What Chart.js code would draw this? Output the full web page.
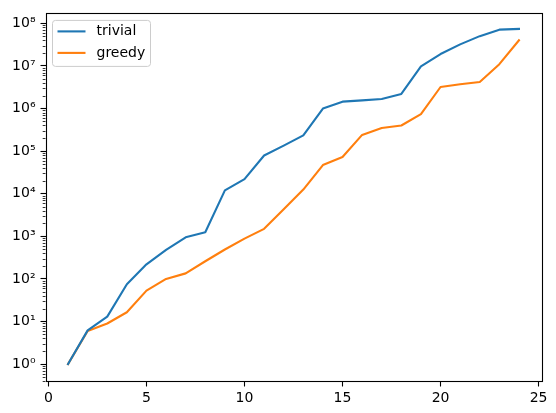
<!DOCTYPE html>
<html>
<head>
<meta charset="utf-8">
<script src="https://cdn.jsdelivr.net/npm/chart.js@4/dist/chart.umd.min.js"></script>
<style>
  body { margin: 0; background: #fff; }
  #wrap { width: 556px; height: 413px; }
</style>
</head>
<body>
<div id="wrap"><canvas id="chart"></canvas></div>
<script>
// data
const sizes = [1, 2, 3, 4, 5, 6, 7, 8, 9, 10, 11, 12, 13, 14, 15, 16, 17, 18, 19, 20, 21, 22, 23, 24];
const trivial = [1, 6.2, 13, 75, 220, 480, 950, 1250, 12000, 22000, 79000, 135000, 235000,
  1000000, 1450000, 1550000, 1670000, 2200000, 9800000, 19000000, 32000000, 50000000, 71000000, 74000000];
const greedy = [1, 6, 9, 16.5, 53, 100, 135, 260, 490, 880, 1500, 4300, 12500,
  47000, 73000, 240000, 350000, 400000, 740000, 3200000, 3700000, 4200000, 11000000, 40000000];
const xTicks = [0, 5, 10, 15, 20, 25];
const yTicks = [1, 10, 100, 1e3, 1e4, 1e5, 1e6, 1e7, 1e8];

const FONT = "'DejaVu Sans', sans-serif";
const sup = { "0": "⁰", "1": "¹", "2": "²", "3": "³", "4": "⁴", "5": "⁵", "6": "⁶", "7": "⁷", "8": "⁸", "9": "⁹" };

function pairs(ys) {
  return sizes.map((x, i) => ({ x: x, y: ys[i] }));
}

// frame, minor ticks and legend box like matplotlib
const extras = {
  id: "extras",
  afterDraw(chart) {
    const ctx = chart.ctx;
    const a = chart.chartArea;
    const ys = chart.scales.y;
    ctx.save();
    ctx.strokeStyle = "#000";
    ctx.lineWidth = 0.8;
    for (let e = -1; e <= 8; e++) {
      for (let m = 2; m <= 9; m++) {
        const v = m * Math.pow(10, e);
        if (v < ys.min || v > ys.max) continue;
        const py = Math.round(ys.getPixelForValue(v)) + 0.5;
        ctx.beginPath();
        ctx.moveTo(a.left - 2.8, py);
        ctx.lineTo(a.left, py);
        ctx.stroke();
      }
    }
    ctx.lineWidth = 1.1;
    ctx.strokeRect(Math.round(a.left) + 0.5, Math.round(a.top) + 0.5,
      Math.round(a.right - a.left), Math.round(a.bottom - a.top));

    // legend
    const bx = a.left + 7, by = a.top + 7, bw = 98, bh = 46;
    ctx.beginPath();
    ctx.roundRect(bx, by, bw, bh, 3);
    ctx.fillStyle = "rgba(255,255,255,0.8)";
    ctx.fill();
    ctx.strokeStyle = "#cccccc";
    ctx.lineWidth = 1;
    ctx.stroke();
    ctx.font = "14px " + FONT;
    ctx.textBaseline = "middle";
    chart.data.datasets.forEach((ds, i) => {
      const ly = by + 11 + i * 21.5;
      ctx.strokeStyle = ds.borderColor;
      ctx.lineWidth = 2.1;
      ctx.beginPath();
      ctx.moveTo(bx + 5, ly);
      ctx.lineTo(bx + 33, ly);
      ctx.stroke();
      ctx.fillStyle = "#000";
      ctx.fillText(ds.label, bx + 44, ly);
    });
    ctx.restore();
  }
};

new Chart(document.getElementById("chart"), {
  type: "line",
  data: {
    datasets: [
      {
        label: "trivial",
        data: pairs(trivial),
        borderColor: "#1f77b4",
        borderWidth: 2.1,
        pointRadius: 0,
        tension: 0,
        borderJoinStyle: "round",
        borderCapStyle: "square"
      },
      {
        label: "greedy",
        data: pairs(greedy),
        borderColor: "#ff7f0e",
        borderWidth: 2.1,
        pointRadius: 0,
        tension: 0,
        borderJoinStyle: "round",
        borderCapStyle: "square"
      }
    ]
  },
  options: {
    responsive: true,
    maintainAspectRatio: false,
    animation: false,
    layout: { padding: { top: 11, right: 14.5, left: 0, bottom: 0 } },
    plugins: {
      legend: { display: false },
      tooltip: { enabled: false }
    },
    scales: {
      x: {
        type: "linear",
        min: -0.15,
        max: 25.15,
        afterBuildTicks: (s) => { s.ticks = xTicks.map(v => ({ value: v })); },
        afterFit: (s) => { s.height = 31.5; },
        grid: { drawOnChartArea: false, tickLength: 5, tickWidth: 1.1, tickColor: "#000" },
        border: { display: false },
        ticks: { padding: 3, color: "#000", font: { family: FONT, size: 14 }, maxRotation: 0 }
      },
      y: {
        type: "logarithmic",
        min: Math.pow(10, -0.408),
        max: Math.pow(10, 8.233),
        afterBuildTicks: (s) => { s.ticks = yTicks.map(v => ({ value: v, major: true })); },
        afterFit: (s) => { s.width = 45.5; },
        grid: { drawOnChartArea: false, tickLength: 5, tickWidth: 1.1, tickColor: "#000" },
        border: { display: false },
        ticks: {
          padding: 5,
          color: "#000",
          font: { family: FONT, size: 14 },
          callback: (v) => "10" + String(Math.round(Math.log10(v))).split("").map(c => sup[c]).join("")
        }
      }
    }
  },
  plugins: [extras]
});
</script>
</body>
</html>
